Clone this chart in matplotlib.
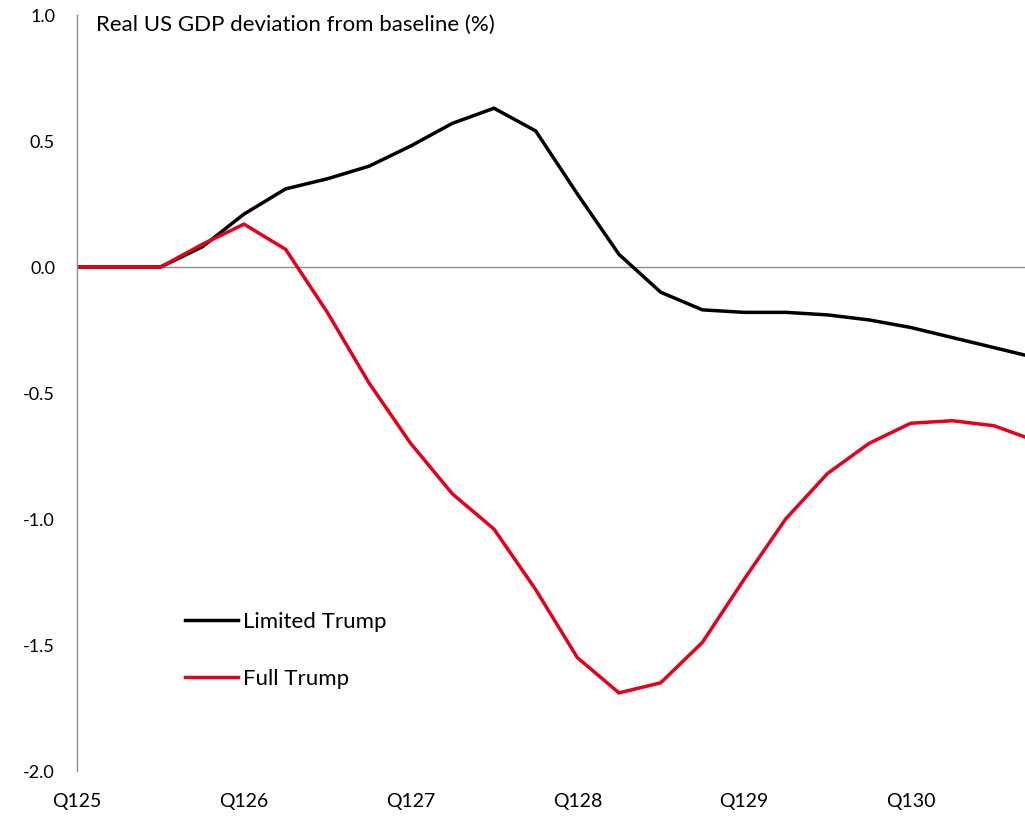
import matplotlib
matplotlib.use("Agg")
import matplotlib.pyplot as plt
import numpy as np

# quarterly deviation of real US GDP from baseline, Q1 2025 .. Q4 2030
quarters = [f"Q{q}{y}" for y in range(25, 31) for q in range(1, 5)]
limited_trump = [0.0, 0.0, 0.0, 0.08, 0.21, 0.31, 0.35, 0.40,
                 0.48, 0.57, 0.63, 0.54, 0.29, 0.05, -0.10, -0.17,
                 -0.18, -0.18, -0.19, -0.21, -0.24, -0.28, -0.32, -0.36]
full_trump = [0.0, 0.0, 0.0, 0.09, 0.17, 0.07, -0.18, -0.46,
              -0.70, -0.90, -1.04, -1.28, -1.55, -1.69, -1.65, -1.49,
              -1.24, -1.00, -0.82, -0.70, -0.62, -0.61, -0.63, -0.69]
y_ticks = [1.0, 0.5, 0.0, -0.5, -1.0, -1.5, -2.0]

RED = "#E2001A"
GREY = "#8c8c8c"

plt.rcParams["font.family"] = ["Lato", "DejaVu Sans"]

W, H = 1025, 818
fig = plt.figure(figsize=(W / 100, H / 100), dpi=100)

# axes in pixel terms: Q125 sits at x=77, each quarter is ~41.7 px wide
left, top, bottom = 77.3, 15, 771
ax = fig.add_axes([left / W, (H - bottom) / H, 1 - left / W, (bottom - top) / H])

x = np.arange(len(quarters))
ax.plot(x, limited_trump, color="black", lw=2.5, label="Limited Trump",
        solid_joinstyle="miter")
ax.plot(x, full_trump, color=RED, lw=2.5, label="Full Trump",
        solid_joinstyle="miter")
ax.axhline(0, color=GREY, lw=1.0, zorder=0)

ax.set_xlim(0, (W - left) / 41.67)
ax.set_ylim(-2.0, 1.0)
ax.set_yticks(y_ticks)
ax.set_yticklabels([f"{v:.1f}" for v in y_ticks])
ax.set_xticks(x[::4])
ax.set_xticklabels(quarters[::4])

for side in ("top", "right", "bottom"):
    ax.spines[side].set_visible(False)
ax.spines["left"].set_color(GREY)
ax.spines["left"].set_linewidth(1.0)
ax.tick_params(axis="y", length=0, labelsize=13, colors="black", pad=16)
ax.tick_params(axis="x", length=0, labelsize=14, colors="black", pad=16)

fig.text(96 / W, (H - 25) / H, "Real US GDP deviation from baseline (%)",
         fontsize=16, va="center", ha="left")

ax.legend(loc="upper left", bbox_to_anchor=(185 / W, (H - 612) / H),
          bbox_transform=fig.transFigure, frameon=False, fontsize=16,
          handlelength=2.4, handletextpad=0.22, labelspacing=1.67,
          borderpad=0, borderaxespad=0)

fig.savefig("out.png", dpi=100)
